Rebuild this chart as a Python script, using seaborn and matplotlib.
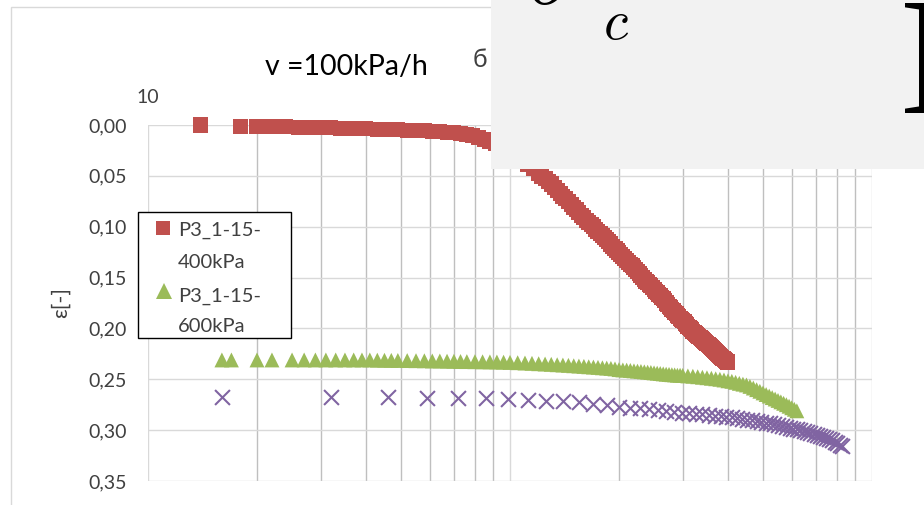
import numpy as np
import pandas as pd
import matplotlib
matplotlib.use("Agg")
import matplotlib.pyplot as plt
import seaborn as sns
from matplotlib.patches import Rectangle
from matplotlib.lines import Line2D
from matplotlib.ticker import FuncFormatter, LogLocator, NullFormatter, FixedLocator

# Data (stress kPa, strain)
red_x = [14, 18, 20, 22, 24, 26, 28, 30, 32, 34, 36, 38, 40, 43, 46, 49, 52, 55, 58, 61,
         64, 67, 70, 73, 76, 79, 82, 85, 88, 91, 94, 97, 100, 104, 108, 112, 116,
         120, 122.5, 125, 127.5, 130, 132.5, 135, 137.5, 140, 142.5, 145, 147.5, 150, 152.5,
         155, 157.5, 160, 162.5, 165, 167.5, 170, 172.5, 175, 177.5, 180, 182.5, 185, 187.5,
         190, 192.5, 195, 197.5, 200, 202.5, 205, 207.5, 210, 212.5, 215, 217.5, 220, 222.5,
         225, 227.5, 230, 232.5, 235, 237.5, 240, 242.5, 245, 247.5, 250, 252.5, 255, 257.5,
         260, 262.5, 265, 267.5, 270, 272.5, 275, 277.5, 280, 282.5, 285, 287.5, 290, 292.5,
         295, 297.5, 300, 302.5, 305, 307.5, 310, 312.5, 315, 317.5, 320, 322.5, 325, 327.5,
         330, 332.5, 335, 337.5, 340, 342.5, 345, 347.5, 350, 352.5, 355, 357.5, 360, 362.5,
         365, 367.5, 370, 372.5, 375, 377.5, 380, 382.5, 385, 387.5, 390, 392.5, 395, 397.5, 400]
red_y = [0.000, 0.001, 0.001, 0.001, 0.0015, 0.002, 0.002, 0.002, 0.0025, 0.003, 0.003, 0.003,
         0.0035, 0.004, 0.004, 0.0045, 0.005, 0.005, 0.0055, 0.006, 0.0065, 0.007, 0.0075, 0.008,
         0.009, 0.010, 0.012, 0.014, 0.016, 0.018, 0.021, 0.024, 0.027, 0.031, 0.035, 0.039, 0.043,
         0.048, 0.0505, 0.053, 0.0555, 0.058, 0.061, 0.064, 0.067, 0.070, 0.0725, 0.075, 0.078,
         0.081, 0.0835, 0.086, 0.0885, 0.091, 0.0935, 0.096, 0.098, 0.100, 0.1025, 0.105, 0.107,
         0.109, 0.111, 0.113, 0.115, 0.117, 0.119, 0.121, 0.123, 0.125, 0.127, 0.129, 0.131,
         0.133, 0.135, 0.137, 0.1385, 0.140, 0.142, 0.144, 0.146, 0.148, 0.150, 0.152, 0.1535,
         0.155, 0.1565, 0.158, 0.160, 0.162, 0.1635, 0.165, 0.1665, 0.168, 0.1695, 0.171, 0.173,
         0.175, 0.1765, 0.178, 0.1795, 0.181, 0.1825, 0.184, 0.1855, 0.187, 0.1885, 0.190, 0.191,
         0.192, 0.1935, 0.195, 0.1965, 0.198, 0.199, 0.200, 0.2015, 0.203, 0.204, 0.205, 0.206,
         0.207, 0.208, 0.209, 0.210, 0.211, 0.212, 0.213, 0.214, 0.215, 0.216, 0.217, 0.218,
         0.219, 0.220, 0.221, 0.222, 0.223, 0.224, 0.225, 0.226, 0.227, 0.228, 0.229, 0.2295,
         0.230, 0.231, 0.232, 0.2325, 0.233]

green_x = [16, 17, 20, 22, 25, 27, 29, 31, 33, 35, 37, 39, 41, 43, 45, 47, 49, 52, 55, 58, 61,
           64, 67, 70, 73, 76, 80, 84, 88, 92, 96, 100, 105, 110, 115, 120, 125, 130, 135, 140,
           145, 150, 155, 160, 165, 170, 175, 180, 185, 190, 195, 200, 205, 210, 215, 220, 225,
           230, 235, 240, 245, 250, 255, 260, 265, 270, 275, 280, 285, 290, 295, 300, 310, 320,
           330, 340, 350, 360, 370, 380, 390, 400, 410, 420, 430, 440, 450, 460, 470, 480, 490,
           500, 510, 520, 530, 540, 550, 560, 570, 580, 590, 600, 610, 620]
green_y = [0.231, 0.231, 0.231, 0.231, 0.231, 0.231, 0.231, 0.231, 0.231, 0.231, 0.231, 0.231,
           0.231, 0.2312, 0.2313, 0.2314, 0.2315, 0.2316, 0.2317, 0.2318, 0.232, 0.232, 0.2322,
           0.2323, 0.2325, 0.2326, 0.2327, 0.2328, 0.2329, 0.233, 0.2332, 0.2334, 0.2337, 0.234,
           0.2343, 0.2347, 0.235, 0.2353, 0.2357, 0.236, 0.2363, 0.2367, 0.237, 0.2373, 0.2377,
           0.238, 0.2383, 0.2387, 0.239, 0.2393, 0.2398, 0.2405, 0.2408, 0.241, 0.2413, 0.2417,
           0.242, 0.2423, 0.2427, 0.243, 0.2433, 0.2437, 0.244, 0.2443, 0.2447, 0.245, 0.2452,
           0.2455, 0.2457, 0.246, 0.246, 0.2462, 0.2467, 0.247, 0.2475, 0.248, 0.2485, 0.249,
           0.2495, 0.250, 0.2507, 0.2515, 0.252, 0.253, 0.254, 0.2548, 0.2556, 0.257, 0.2586,
           0.2602, 0.2618, 0.2634, 0.265, 0.2665, 0.268, 0.2694, 0.2708, 0.2722, 0.2736, 0.275,
           0.2765, 0.278, 0.2795, 0.281]

purple_x = [16, 32, 46, 59, 72, 86, 99, 112, 126, 140, 155, 170, 185, 200, 214, 228, 242, 256,
            270, 284, 298, 312, 326, 340, 354, 368, 382, 396, 410, 424, 438, 452, 466, 480, 494,
            508, 522, 536, 550, 564, 578, 592, 606, 620, 634, 648, 662, 676, 690, 704, 718, 732,
            746, 760, 774, 788, 802, 816, 826]
purple_y = [0.267, 0.267, 0.267, 0.268, 0.268, 0.268, 0.269, 0.270, 0.271, 0.2715, 0.272, 0.274,
            0.2755, 0.277, 0.2778, 0.2786, 0.2794, 0.2802, 0.281, 0.2818, 0.2828, 0.2835, 0.284,
            0.2846, 0.2852, 0.2858, 0.2864, 0.2868, 0.2875, 0.288, 0.2888, 0.2896, 0.2903, 0.291,
            0.2917, 0.2925, 0.2933, 0.2941, 0.295, 0.2958, 0.2966, 0.2975, 0.2984, 0.2992, 0.300,
            0.301, 0.302, 0.3028, 0.3037, 0.3046, 0.3056, 0.3066, 0.3077, 0.3088, 0.310, 0.3112,
            0.3125, 0.3142, 0.316]

series_labels = ["P3_1-15-\n400kPa", "P3_1-15-\n600kPa"]
y_ticks = [0.00, 0.05, 0.10, 0.15, 0.20, 0.25, 0.30, 0.35]
x_ticks = [10, 100, 1000]

RED = "#C0504D"
GREEN = "#9BBB59"
PURPLE = "#8064A2"

sns.set_theme(style="white")
plt.rcParams["font.family"] = ["Lato", "DejaVu Sans"]
plt.rcParams["mathtext.fontset"] = "cm"

W, H = 924, 505
def fx(px):
    return px / W
def fy(py):
    return 1 - py / H

fig = plt.figure(figsize=(W / 100, H / 100), dpi=100)
ax = fig.add_axes([fx(148), fy(481), fx(872) - fx(148), fy(125) - fy(481)])

df_red = pd.DataFrame({"x": red_x, "y": red_y})
df_green = pd.DataFrame({"x": green_x, "y": green_y})
df_purple = pd.DataFrame({"x": purple_x, "y": purple_y})

sns.scatterplot(data=df_red, x="x", y="y", marker="s", s=117, color=RED,
                edgecolor="none", linewidth=0, ax=ax, clip_on=False, zorder=3)
sns.scatterplot(data=df_green, x="x", y="y", marker="^", s=115, color=GREEN,
                edgecolor="none", linewidth=0, ax=ax, clip_on=False, zorder=3)
sns.scatterplot(data=df_purple, x="x", y="y", marker="x", s=115, color=PURPLE,
                linewidth=1.5, ax=ax, clip_on=False, zorder=3)

ax.set_xscale("log")
ax.set_xlim(10, 1000)
ax.set_ylim(0.35, 0.0)
ax.xaxis.tick_top()
ax.xaxis.set_major_locator(FixedLocator(x_ticks))
ax.xaxis.set_major_formatter(FuncFormatter(lambda v, p: f"{v:g}"))
ax.xaxis.set_minor_locator(LogLocator(base=10, subs=[2, 3, 4, 5, 6, 7, 8, 9]))
ax.xaxis.set_minor_formatter(NullFormatter())
ax.set_yticks(y_ticks)
ax.yaxis.set_major_formatter(FuncFormatter(lambda v, p: f"{v:.2f}".replace(".", ",")))
ax.tick_params(axis="both", which="both", length=0, labelsize=14, colors="#404040")
ax.tick_params(axis="y", pad=15)
ax.tick_params(axis="x", pad=13.5)
ax.set_axisbelow(True)
ax.grid(which="major", axis="both", color="#d9d9d9", linewidth=1.0)
ax.grid(which="minor", axis="x", color="#bfbfbf", linewidth=1.0)
for sp in ax.spines.values():
    sp.set_visible(False)
ax.set_xlabel("")
ax.set_ylabel("ε[-]", fontsize=15.5, color="#404040")
ax.yaxis.set_label_coords((61 - 148) / 724, 0.5)
ax.yaxis.label.set_va("center")

# chart border
fig.add_artist(Rectangle((fx(10.5), -0.1), 1.2, fy(7) + 0.1, transform=fig.transFigure,
                         facecolor="none", edgecolor="#d9d9d9", linewidth=1.0, zorder=1))

# title
fig.text(fx(346), fy(75), "v =100kPa/h", ha="center", va="baseline", fontsize=20.5, color="black")
fig.text(fx(473), fy(67), "б", ha="left", va="baseline", fontsize=18, color="#404040")

# manual legend
fig.add_artist(Rectangle((fx(138), fy(338)), fx(291) - fx(138), fy(212) - fy(338),
                         transform=fig.transFigure, facecolor="white", edgecolor="black",
                         linewidth=1.0, zorder=6))
fig.add_artist(Line2D([fx(163)], [fy(228)], marker="s", markersize=10.5, color=RED,
                      markeredgewidth=0, linestyle="none", transform=fig.transFigure, zorder=7))
fig.add_artist(Line2D([fx(164)], [fy(291)], marker="^", markersize=11, color=GREEN,
                      markeredgewidth=0, linestyle="none", transform=fig.transFigure, zorder=7))
for lab, (b1, b2) in zip(series_labels, [(236, 268), (302, 332)]):
    l1, l2 = lab.split("\n")
    fig.text(fx(178), fy(b1), l1, ha="left", va="baseline", fontsize=14.5, color="#404040", zorder=7)
    fig.text(fx(178), fy(b2), l2, ha="left", va="baseline", fontsize=14.5, color="#404040", zorder=7)

# gray overlay box with formula fragment
fig.add_artist(Rectangle((fx(491), fy(169)), 1 - fx(491), 1 - fy(169), transform=fig.transFigure,
                         facecolor="#f2f2f2", edgecolor="none", zorder=8))
fig.text(fx(528), fy(4), r"$\sigma$", ha="left", va="baseline", fontsize=60, color="black", zorder=9)
fig.text(fx(603), fy(39), r"$c$", ha="left", va="baseline", fontsize=40, color="black", zorder=9)
fig.text(fx(899), fy(113), "I", ha="left", va="baseline", fontsize=120, color="black",
         family="Liberation Serif", zorder=9)

fig.savefig("out.png", dpi=100)
